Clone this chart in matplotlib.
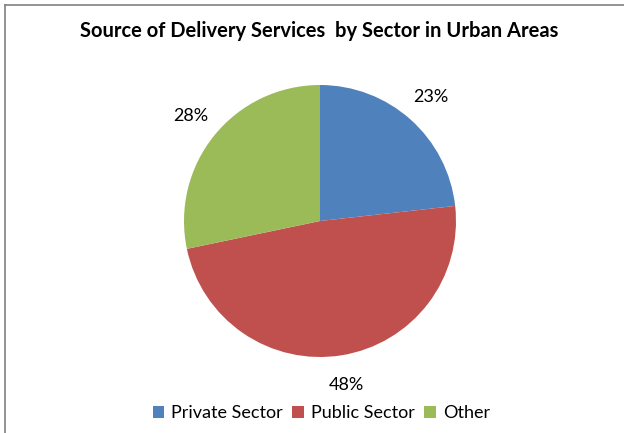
import matplotlib.pyplot as plt
from matplotlib.patches import Patch
from matplotlib.lines import Line2D
import numpy as np

plt.rcParams['font.family'] = ['Lato', 'DejaVu Sans']

sectors = ['Private Sector', 'Public Sector', 'Other']
shares = [23, 48, 28]
colors = ['#4F81BD', '#C0504D', '#9BBB59']

W, H = 624, 433
fig = plt.figure(figsize=(W / 100, H / 100), dpi=100)

# pie sits at pixel centre (320, 221) with radius 136
cx, cy, r = 320, 221, 136
ax = fig.add_axes([(cx - r) / W, (H - cy - r) / H, 2 * r / W, 2 * r / H])
wedges, texts = ax.pie(shares, colors=colors, startangle=90, counterclock=False,
                       radius=1, wedgeprops=dict(linewidth=0))
total = sum(shares)
ang = 90.0
for v in shares:
    span = 360.0 * v / total
    mid = np.deg2rad(ang - span / 2)
    d = 1.22
    ax.text(d * np.cos(mid), d * np.sin(mid), f'{v}%', ha='center', va='center',
            fontsize=13)
    ang -= span
ax.set_xlim(-1, 1)
ax.set_ylim(-1, 1)
ax.set_aspect('equal')
ax.axis('off')

fig.text(0.511, 1 - 31 / H, 'Source of Delivery Services  by Sector in Urban Areas',
         ha='center', va='center', fontsize=14.5, fontweight='bold')

handles = [Patch(facecolor=c, edgecolor='none') for c in colors]
fig.legend(handles, sectors, loc='center', bbox_to_anchor=(0.515, 1 - 413 / H),
           ncol=3, frameon=False, fontsize=13, handlelength=0.65, handleheight=0.65,
           handletextpad=0.4, columnspacing=0.5)

# chart frame, top and left edges
fig.add_artist(Line2D([4.5 / W, 1], [1 - 4.5 / H, 1 - 4.5 / H], color='#808080', lw=1.2))
fig.add_artist(Line2D([4.5 / W, 4.5 / W], [0, 1 - 4.5 / H], color='#808080', lw=1.2))

fig.savefig('out.png', dpi=100)
